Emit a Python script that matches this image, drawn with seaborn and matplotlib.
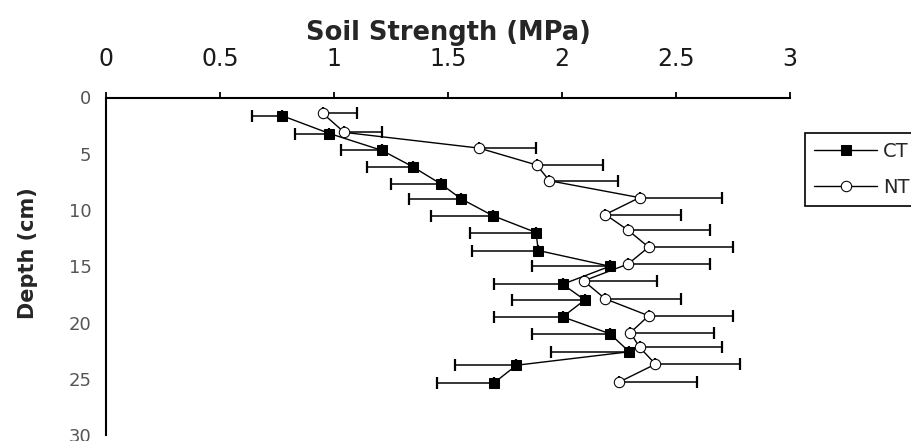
import pandas as pd
import matplotlib
matplotlib.use("Agg")
import matplotlib.pyplot as plt
import seaborn as sns

# Conventional tillage (CT): mean soil strength, depth, lower error
ct_depth = [1.6, 3.2, 4.7, 6.15, 7.7, 9.0, 10.5, 12.0, 13.6, 15.0,
            16.6, 18.0, 19.5, 21.0, 22.6, 23.8, 25.4]
ct_strength = [0.77, 0.98, 1.21, 1.345, 1.47, 1.557, 1.696, 1.886, 1.896, 2.21,
               2.003, 2.10, 2.003, 2.21, 2.295, 1.80, 1.70]
ct_err = [0.13, 0.15, 0.18, 0.20, 0.22, 0.23, 0.27, 0.29, 0.29, 0.34,
          0.30, 0.32, 0.30, 0.34, 0.345, 0.27, 0.25]

# No tillage (NT): mean soil strength, depth, upper error
nt_depth = [1.4, 3.1, 4.5, 6.0, 7.4, 8.9, 10.4, 11.8, 13.3, 14.8,
            16.3, 17.9, 19.4, 20.9, 22.2, 23.7, 25.3]
nt_strength = [0.95, 1.045, 1.637, 1.889, 1.945, 2.34, 2.19, 2.29, 2.38, 2.29,
               2.095, 2.19, 2.38, 2.30, 2.34, 2.41, 2.25]
nt_err = [0.15, 0.165, 0.25, 0.29, 0.30, 0.36, 0.33, 0.36, 0.37, 0.36,
          0.32, 0.33, 0.37, 0.365, 0.36, 0.37, 0.34]

x_ticks = [0, 0.5, 1, 1.5, 2, 2.5, 3]
x_ticklabels = ["0", "0.5", "1", "1.5", "2", "2.5", "3"]
y_ticks = [0, 5, 10, 15, 20, 25, 30]

ct = pd.DataFrame({"Strength": ct_strength, "Depth": ct_depth})
nt = pd.DataFrame({"Strength": nt_strength, "Depth": nt_depth})

sns.set_style("white")
plt.rcParams["font.family"] = ["DejaVu Sans"]

fig = plt.figure(figsize=(9.12, 4.41), dpi=100)
ax = fig.add_axes([106 / 912, 1 - 435 / 441, (790 - 106) / 912, (435 - 97.5) / 441])

# Error bars: CT shows only the minus side, NT only the plus side
ax.errorbar(ct_strength, ct_depth, xerr=[ct_err, [0] * len(ct_err)],
            fmt="none", ecolor="black", elinewidth=1.1, capsize=4, capthick=1.6)
ax.errorbar(nt_strength, nt_depth, xerr=[[0] * len(nt_err), nt_err],
            fmt="none", ecolor="black", elinewidth=1.1, capsize=4, capthick=1.6)

sns.lineplot(data=ct, x="Strength", y="Depth", sort=False, estimator=None,
             color="black", linewidth=1, marker="s", markersize=7,
             markerfacecolor="black", markeredgecolor="black", label="CT", ax=ax)
sns.lineplot(data=nt, x="Strength", y="Depth", sort=False, estimator=None,
             color="black", linewidth=1, marker="o", markersize=7.5,
             markerfacecolor="white", markeredgecolor="black", label="NT", ax=ax)

ax.set_xlim(0, 3)
ax.set_ylim(30, 0)
ax.xaxis.tick_top()
ax.xaxis.set_label_position("top")
ax.set_xticks(x_ticks)
ax.set_xticklabels(x_ticklabels)
ax.set_yticks(y_ticks)

ax.tick_params(axis="x", direction="out", length=4.5, width=1.3, pad=14.5,
               labelsize=17, labelcolor="#1a1a1a", color="black")
ax.tick_params(axis="y", direction="out", length=4.5, width=1.3, pad=6,
               labelsize=13, labelcolor="#555555", color="black")

for side in ["right", "bottom"]:
    ax.spines[side].set_visible(False)
for side in ["top", "left"]:
    ax.spines[side].set_color("black")
    ax.spines[side].set_linewidth(1.5)

ax.set_xlabel("Soil Strength (MPa)", fontsize=18.5, fontweight="bold")
ax.xaxis.set_label_coords(0.5, (435 - 40) / 337.5)
ax.set_ylabel("Depth (cm)", fontsize=15, fontweight="bold")
ax.yaxis.set_label_coords((38 - 106) / 684, (435 - 253) / 337.5)

leg = ax.legend(loc="upper left", bbox_to_anchor=(805 / 912, 1 - 133 / 441),
                bbox_transform=fig.transFigure, frameon=True, fancybox=False,
                fontsize=14, handlelength=3.25, handletextpad=0.3,
                labelspacing=0.88, borderpad=0.46, borderaxespad=0)
leg.get_frame().set_edgecolor("black")
leg.get_frame().set_linewidth(1.2)
leg.get_frame().set_alpha(1)

fig.savefig("out.png", dpi=100)
